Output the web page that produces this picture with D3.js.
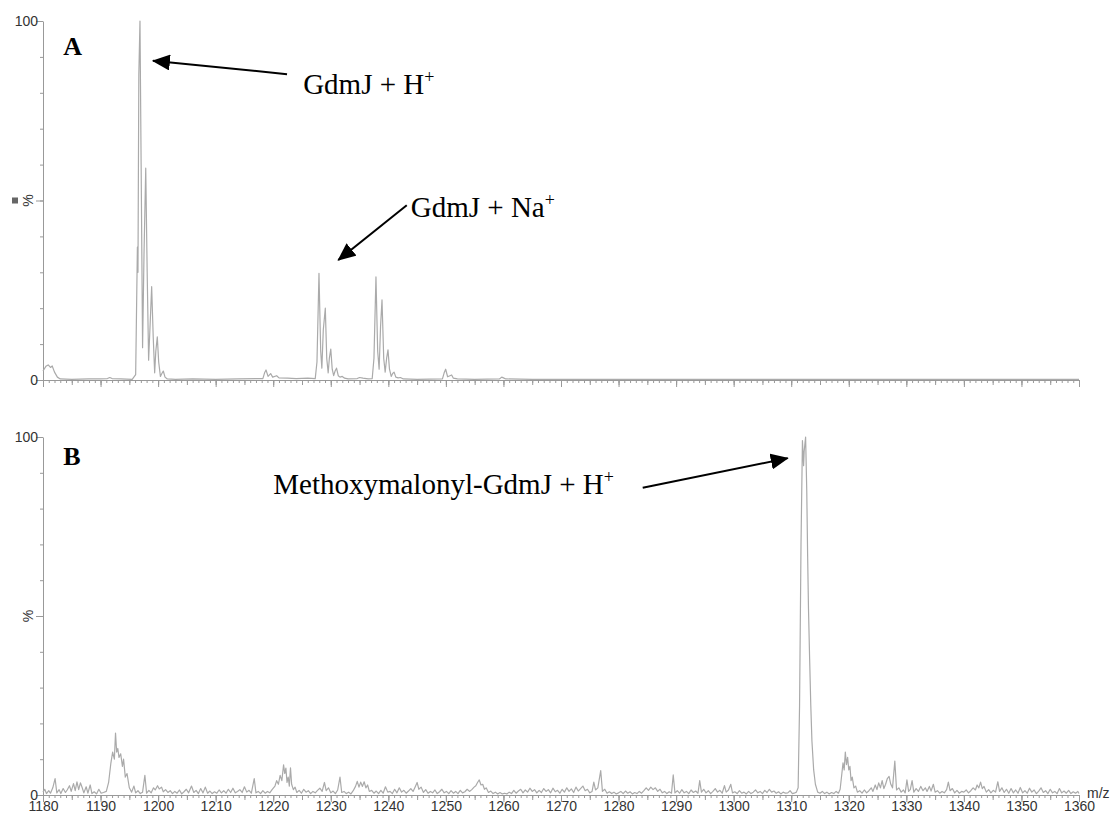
<!DOCTYPE html>
<html>
<head>
<meta charset="utf-8">
<script src="https://cdn.jsdelivr.net/npm/d3@7"></script>
<style>
  body { margin: 0; background: #fff; }
  .tick text { font-family: "Liberation Sans", Arial, sans-serif; font-size: 14px; fill: #333; }
</style>
</head>
<body>
<svg id="spectrum" width="1110" height="813"></svg>
<script>
// ------- Data (m/z, relative intensity %) ------
const mzDomain = [1180, 1360];

// panel A : GdmJ
const panelA = [
  [1180.0, 2.5], [1180.5, 3.8], [1180.9, 4.2], [1181.3, 3.5], [1181.6, 3.9], [1182.0, 2.2], [1182.5, 0.8],
  [1183.0, 0.3], [1185.0, 0.2], [1188.0, 0.3], [1190.0, 0.3], [1191.2, 0.4], [1191.6, 0.7], [1192.0, 0.4],
  [1193.5, 0.3], [1195.5, 0.2], [1196.1, 1.5], [1196.4, 37], [1196.5, 30], [1196.65, 85], [1196.85, 100],
  [1197.05, 60], [1197.3, 9], [1197.55, 35], [1197.85, 59], [1198.1, 30], [1198.35, 5.5], [1198.6, 15],
  [1198.88, 26], [1199.15, 12], [1199.4, 2], [1199.6, 8], [1199.86, 12], [1200.1, 5], [1200.4, 1],
  [1200.65, 1.8], [1200.9, 2.5], [1201.2, 0.8], [1201.6, 0.3], [1203.0, 0.2], [1206.0, 0.3], [1210.0, 0.2],
  [1214.0, 0.3], [1218.2, 0.4], [1218.5, 2.0], [1218.75, 2.8], [1219.1, 1.0], [1219.55, 1.8], [1219.9, 0.8],
  [1220.6, 1.2], [1221.0, 0.6], [1222.5, 0.5], [1224.0, 0.4], [1226.0, 0.5], [1227.3, 0.4], [1227.6, 5],
  [1227.95, 29.7], [1228.25, 8], [1228.45, 3.3], [1228.7, 14], [1229.05, 20], [1229.3, 6], [1229.55, 2],
  [1229.75, 6], [1230.0, 8.6], [1230.25, 3], [1230.5, 1.2], [1230.75, 2.5], [1231.0, 3.3], [1231.3, 1.2],
  [1231.6, 0.8], [1232.0, 1.0], [1232.4, 0.5], [1233.0, 0.3], [1234.6, 0.4], [1235.0, 0.7], [1235.6, 0.5],
  [1236.5, 0.3], [1237.2, 0.4], [1237.5, 6], [1237.85, 28.7], [1238.15, 8], [1238.4, 3], [1238.65, 15],
  [1238.9, 22.3], [1239.2, 6], [1239.45, 2.2], [1239.7, 6], [1239.94, 8.4], [1240.2, 3], [1240.5, 1],
  [1240.75, 1.8], [1241.0, 2.2], [1241.3, 0.8], [1241.7, 0.6], [1242.1, 0.7], [1242.6, 0.3], [1245.0, 0.2],
  [1249.4, 0.3], [1249.7, 2.0], [1249.96, 3.0], [1250.3, 0.9], [1250.7, 1.2], [1251.0, 1.4], [1251.3, 0.5],
  [1252.0, 0.3], [1255.0, 0.2], [1259.3, 0.3], [1259.7, 0.8], [1260.0, 0.6], [1260.4, 0.3], [1265.0, 0.2],
  [1280.0, 0.2], [1300.0, 0.2], [1320.0, 0.2], [1340.0, 0.2], [1360.0, 0.2]
];

// panel B : methoxymalonyl-GdmJ (noisy baseline)
const panelB = [
  [1180.0, 0.8], [1180.3, 1.6], [1180.6, 0.4], [1181.0, 1.2], [1181.3, 0.5], [1181.7, 2.0], [1182.1, 4.6],
  [1182.4, 0.6], [1182.8, 1.5], [1183.1, 0.4], [1183.5, 1.8], [1183.9, 0.7], [1184.2, 1.4], [1184.6, 2.6],
  [1184.9, 1.0], [1185.3, 3.2], [1185.6, 1.2], [1185.9, 3.7], [1186.2, 1.5], [1186.5, 3.4], [1186.8, 2.1],
  [1187.1, 0.6], [1187.5, 2.3], [1187.8, 0.5], [1188.2, 2.8], [1188.5, 0.4], [1188.9, 0.9], [1189.3, 0.3],
  [1189.7, 1.6], [1190.1, 0.5], [1190.5, 0.7],
  [1191.0, 1.0], [1191.4, 3.5], [1191.8, 9], [1192.1, 12], [1192.4, 10], [1192.6, 17.3], [1192.8, 12],
  [1193.0, 13], [1193.2, 10.5], [1193.5, 11.5], [1193.8, 8], [1194.0, 10], [1194.3, 5], [1194.6, 6],
  [1195.0, 2], [1195.4, 0.8],
  [1195.8, 2.5], [1196.1, 0.6], [1196.5, 1.2], [1196.9, 0.4], [1197.3, 0.8], [1197.7, 5.5], [1198.0, 0.5],
  [1198.4, 1.3], [1198.8, 0.6], [1199.2, 2.0], [1199.5, 1.4], [1199.9, 2.6], [1200.2, 1.7], [1200.6, 2.2],
  [1200.9, 0.9], [1201.3, 1.5], [1201.7, 0.7], [1202.1, 1.2], [1202.5, 0.4], [1202.9, 1.0], [1203.3, 0.5],
  [1203.7, 1.4], [1204.1, 0.3], [1204.5, 0.9], [1204.9, 1.6], [1205.3, 0.6], [1205.8, 2.5], [1206.2, 0.7],
  [1206.6, 1.3], [1207.0, 0.4], [1207.4, 1.8], [1207.8, 0.6], [1208.2, 2.2], [1208.6, 0.5], [1209.0, 1.1],
  [1209.4, 0.4], [1209.8, 0.9],
  [1210.2, 0.5], [1210.6, 1.4], [1211.0, 0.6], [1211.4, 1.2], [1211.8, 0.5], [1212.2, 1.6], [1212.6, 0.7],
  [1213.0, 1.9], [1213.4, 0.6], [1213.8, 1.0], [1214.2, 1.5], [1214.6, 0.7], [1215.0, 2.3], [1215.4, 0.8],
  [1215.8, 1.3], [1216.2, 0.5], [1216.7, 4.6], [1217.0, 0.6], [1217.4, 1.0], [1217.8, 0.4], [1218.2, 1.2],
  [1218.6, 0.5], [1219.0, 1.0], [1219.4, 0.6], [1219.8, 1.5],
  [1220.3, 2.5], [1220.6, 4.0], [1220.9, 3.0], [1221.2, 5.5], [1221.5, 4.0], [1221.8, 8.4], [1222.0, 6.0],
  [1222.2, 7.5], [1222.4, 3.5], [1222.6, 5.0], [1222.8, 2.5], [1223.0, 7.6], [1223.2, 3.0], [1223.5, 1.5],
  [1223.8, 2.2], [1224.1, 0.7],
  [1224.5, 1.3], [1224.9, 0.5], [1225.3, 1.6], [1225.7, 0.8], [1226.1, 1.2], [1226.5, 0.4], [1226.9, 1.0],
  [1227.3, 0.6], [1227.7, 1.3], [1228.1, 1.9], [1228.5, 1.0], [1228.9, 3.5], [1229.2, 1.2], [1229.6, 2.0],
  [1230.0, 0.6], [1230.4, 1.1], [1230.8, 0.4], [1231.2, 1.4], [1231.6, 5.0], [1231.9, 0.7], [1232.3, 1.0],
  [1232.7, 0.4], [1233.1, 0.8], [1233.5, 0.3], [1233.9, 1.2],
  [1234.3, 2.4], [1234.6, 3.8], [1234.9, 2.2], [1235.2, 3.6], [1235.5, 2.4], [1235.8, 3.7], [1236.1, 2.0],
  [1236.4, 2.8], [1236.7, 1.0], [1237.1, 1.3], [1237.5, 0.5], [1237.9, 1.1], [1238.3, 0.4], [1238.7, 1.3],
  [1239.1, 0.5], [1239.5, 2.3], [1239.9, 0.8], [1240.3, 1.0], [1240.7, 0.4], [1241.1, 1.6], [1241.5, 0.6],
  [1241.9, 2.0], [1242.3, 0.8], [1242.7, 1.3], [1243.1, 0.5], [1243.5, 1.1], [1243.9, 1.8], [1244.3, 1.0],
  [1244.7, 2.4], [1245.0, 3.5], [1245.3, 1.6], [1245.7, 2.2], [1246.1, 0.7], [1246.5, 1.5], [1246.9, 0.5],
  [1247.3, 1.0], [1247.7, 0.6], [1248.1, 1.4], [1248.5, 0.4], [1248.9, 0.9], [1249.3, 1.6], [1249.7, 0.6],
  [1250.1, 1.0],
  [1250.5, 0.4], [1250.9, 1.2], [1251.3, 0.5], [1251.7, 1.0], [1252.1, 0.4], [1252.5, 1.3], [1252.9, 0.6],
  [1253.3, 0.9], [1253.7, 1.6], [1254.1, 1.0], [1254.5, 1.5], [1254.9, 2.2], [1255.2, 2.6], [1255.5, 3.5],
  [1255.8, 4.2], [1256.1, 2.8], [1256.4, 3.0], [1256.7, 1.6], [1257.0, 2.0], [1257.4, 0.7], [1257.8, 1.1],
  [1258.2, 0.4], [1258.6, 0.8], [1259.0, 0.3], [1259.4, 0.7], [1259.8, 0.3],
  [1260.2, 0.5], [1260.6, 0.3], [1261.0, 0.8], [1261.4, 0.4], [1261.8, 1.3], [1262.2, 0.5], [1262.6, 1.1],
  [1263.0, 1.6], [1263.4, 0.6], [1263.8, 1.4], [1264.2, 0.8], [1264.6, 1.9], [1265.0, 1.0], [1265.4, 1.5],
  [1265.8, 0.6], [1266.2, 1.3], [1266.6, 0.7], [1267.0, 1.8], [1267.4, 1.0], [1267.8, 1.5], [1268.2, 0.6],
  [1268.6, 1.9], [1269.0, 0.9], [1269.4, 1.3], [1269.8, 0.5],
  [1270.2, 1.6], [1270.6, 0.8], [1271.0, 2.0], [1271.4, 1.0], [1271.8, 1.7], [1272.2, 0.7], [1272.6, 2.2],
  [1273.0, 1.1], [1273.4, 1.8], [1273.8, 2.5], [1274.2, 1.2], [1274.6, 1.6], [1275.0, 0.6], [1275.4, 1.0],
  [1275.7, 3.6], [1276.0, 1.4], [1276.4, 2.0], [1276.9, 6.8], [1277.2, 1.0], [1277.6, 1.6], [1278.0, 0.5],
  [1278.4, 0.9], [1278.8, 0.4], [1279.2, 0.8], [1279.6, 0.3],
  [1280.0, 0.6], [1280.4, 1.0], [1280.8, 0.4], [1281.2, 1.1], [1281.6, 0.5], [1282.0, 0.9], [1282.4, 0.3],
  [1282.8, 0.7], [1283.2, 0.4], [1283.6, 1.0], [1284.0, 0.5], [1284.4, 1.2], [1284.8, 2.0], [1285.2, 1.3],
  [1285.6, 2.2], [1286.0, 1.5], [1286.4, 2.0], [1286.8, 1.0], [1287.2, 1.6], [1287.6, 0.6], [1288.0, 1.0],
  [1288.4, 0.4], [1288.8, 0.9], [1289.2, 0.5], [1289.5, 5.6], [1289.8, 0.6],
  [1290.2, 1.2], [1290.6, 0.5], [1291.0, 1.5], [1291.4, 0.6], [1291.8, 1.0], [1292.2, 0.4], [1292.6, 1.4],
  [1293.0, 0.7], [1293.4, 1.1], [1293.8, 0.5], [1294.1, 4.0], [1294.4, 0.8], [1294.8, 1.6], [1295.2, 0.6],
  [1295.6, 1.2], [1296.0, 0.4], [1296.4, 1.0], [1296.8, 1.8], [1297.2, 0.8], [1297.6, 1.3], [1298.0, 0.5],
  [1298.4, 2.6], [1298.7, 0.8], [1299.1, 1.4], [1299.5, 3.0], [1299.8, 0.6],
  [1300.2, 0.9], [1300.6, 0.4], [1301.0, 1.2], [1301.4, 0.5], [1301.8, 0.8], [1302.2, 0.3], [1302.6, 1.0],
  [1303.0, 0.4], [1303.4, 0.8], [1303.8, 1.4], [1304.2, 0.6], [1304.6, 1.0], [1305.0, 0.4], [1305.4, 1.3],
  [1305.8, 0.7], [1306.2, 1.6], [1306.6, 0.8], [1307.0, 1.1], [1307.4, 0.5], [1307.8, 0.9], [1308.2, 0.3],
  [1308.6, 0.8], [1309.0, 0.5], [1309.4, 0.6], [1309.8, 1.2], [1310.2, 0.4],
  [1310.5, 0.5], [1310.9, 0.8], [1311.2, 2], [1311.45, 25], [1311.7, 70], [1311.95, 99], [1312.15, 92],
  [1312.25, 96], [1312.5, 100], [1312.7, 85], [1312.85, 67], [1313.0, 52], [1313.2, 38], [1313.4, 25],
  [1313.6, 15], [1313.9, 7], [1314.2, 3], [1314.6, 0.8],
  [1315.0, 0.5], [1315.4, 1.0], [1315.8, 0.4], [1316.2, 0.8], [1316.6, 0.3], [1317.0, 0.7], [1317.4, 0.4],
  [1317.8, 1.0], [1318.2, 0.5], [1318.5, 1.6], [1318.8, 6.0], [1319.0, 9.0], [1319.2, 7.0], [1319.4, 12.0],
  [1319.6, 8.5], [1319.8, 10.5], [1320.0, 7.0], [1320.2, 8.0], [1320.4, 4.0], [1320.6, 5.0], [1320.9, 2.0],
  [1321.2, 2.5], [1321.5, 0.8], [1321.9, 1.2], [1322.3, 0.5], [1322.7, 1.4], [1323.1, 0.6], [1323.5, 1.2],
  [1323.9, 2.0], [1324.2, 1.0], [1324.6, 2.8], [1324.9, 1.5], [1325.2, 3.4], [1325.5, 2.0], [1325.8, 4.0],
  [1326.1, 1.8], [1326.4, 3.0], [1326.7, 4.6], [1327.0, 5.2], [1327.3, 3.0], [1327.6, 2.0], [1328.0, 9.5],
  [1328.3, 1.4], [1328.7, 2.0], [1329.1, 0.8], [1329.5, 1.4], [1329.8, 0.6], [1330.1, 4.2], [1330.4, 1.0],
  [1330.7, 1.6], [1331.0, 4.0], [1331.3, 0.8], [1331.7, 1.8], [1332.1, 1.0], [1332.5, 2.4], [1332.9, 1.2],
  [1333.3, 2.0], [1333.6, 1.0], [1334.0, 2.4], [1334.3, 1.1], [1334.7, 3.0], [1335.0, 0.8],
  [1335.4, 1.2], [1335.8, 0.5], [1336.2, 1.0], [1336.6, 0.6], [1337.0, 1.5], [1337.3, 3.6], [1337.6, 1.2],
  [1338.0, 1.8], [1338.4, 0.6], [1338.8, 1.3], [1339.2, 0.5], [1339.6, 1.0], [1340.0, 0.8], [1340.4, 1.4],
  [1340.8, 0.6], [1341.2, 1.2], [1341.6, 2.0], [1342.0, 1.4], [1342.3, 2.8], [1342.6, 2.0], [1342.9, 3.6],
  [1343.2, 1.8], [1343.5, 2.4], [1343.9, 0.8], [1344.3, 1.5], [1344.7, 0.6], [1345.1, 1.3], [1345.5, 0.8],
  [1345.9, 3.7], [1346.2, 1.0], [1346.6, 2.0], [1347.0, 0.7], [1347.4, 1.6], [1347.8, 0.5], [1348.2, 1.8],
  [1348.6, 0.6], [1349.0, 1.4], [1349.4, 0.5], [1349.8, 2.1], [1350.2, 0.6], [1350.6, 1.2], [1351.0, 0.5],
  [1351.4, 1.9], [1351.8, 0.8], [1352.2, 1.4], [1352.6, 0.4], [1353.0, 1.1], [1353.4, 2.0], [1353.8, 0.7],
  [1354.2, 1.2], [1354.6, 0.4], [1355.0, 1.6], [1355.4, 0.6], [1355.8, 1.0], [1356.2, 0.4], [1356.6, 1.8],
  [1357.0, 0.6], [1357.4, 1.1], [1357.8, 0.5], [1358.2, 1.3], [1358.6, 0.4], [1359.0, 0.9], [1359.4, 0.5],
  [1359.8, 1.0], [1360.0, 0.4]
];

// annotations: [label, superscript, text position, arrow tail, arrow tip] in (m/z, %)
const notesA = [
  ["GdmJ + H", "+", [1225.2, 79.7], [1222.4, 85.2], [1199.1, 88.9]],
  ["GdmJ + Na", "+", [1243.9, 45.4], [1243.2, 48.7], [1231.3, 33.4]]
];
const notesB = [
  ["Methoxymalonyl-GdmJ + H", "+", [1220.0, 84.1], [1284.2, 85.8], [1309.4, 94.1]]
];

// ------- Layout ------
const svg = d3.select("#spectrum");
const axisColor = "#999";
const traceColor = "#aaa";
const x = d3.scaleLinear().domain(mzDomain).range([43, 1079]);

svg.append("defs").append("marker")
  .attr("id", "head")
  .attr("viewBox", "0 0 18 16")
  .attr("refX", 17)
  .attr("refY", 8)
  .attr("markerWidth", 18)
  .attr("markerHeight", 16)
  .attr("markerUnits", "userSpaceOnUse")
  .attr("orient", "auto")
  .append("path")
  .attr("d", "M0,0L18,8L0,16Z")
  .attr("fill", "black");

const panels = [
  { data: panelA, notes: notesA, top: 21, bottom: 380, letter: "A", letterY: 90.5, labels: false, mark: true },
  { data: panelB, notes: notesB, top: 437, bottom: 795, letter: "B", letterY: 92.2, labels: true, mark: false }
];

function styleAxis(g) {
  g.selectAll("path, line").attr("stroke", axisColor);
}

function drawPanel(p) {
  const y = d3.scaleLinear().domain([0, 100]).range([p.bottom, p.top]);
  const g = svg.append("g");

  // x axis: 1, 5 and 10 unit ticks
  const xg = g.append("g").attr("transform", `translate(0,${p.bottom})`);
  xg.append("g")
    .call(d3.axisBottom(x).tickValues(d3.range(1180, 1361, 1)).tickSize(3).tickSizeOuter(0).tickFormat(""))
    .call(styleAxis);
  xg.append("g")
    .call(d3.axisBottom(x).tickValues(d3.range(1180, 1361, 5)).tickSize(5).tickSizeOuter(0).tickFormat(""))
    .call(styleAxis).select(".domain").remove();
  const major = xg.append("g")
    .call(d3.axisBottom(x).tickValues(d3.range(1180, 1361, 10)).tickSize(7).tickSizeOuter(0)
      .tickFormat(p.labels ? d3.format("d") : ""))
    .call(styleAxis);
  major.select(".domain").remove();
  major.selectAll("text").attr("y", 6);

  // y axis
  const yg = g.append("g").attr("transform", `translate(${x(mzDomain[0])},0)`);
  yg.append("g")
    .call(d3.axisLeft(y).tickValues(d3.range(0, 101, 10)).tickSize(3).tickSizeOuter(0).tickFormat(""))
    .call(styleAxis);
  const ymaj = yg.append("g")
    .call(d3.axisLeft(y).tickValues([0, 50, 100]).tickSize(7).tickSizeOuter(0)
      .tickFormat(d => d === 50 ? "" : d))
    .call(styleAxis);
  ymaj.select(".domain").remove();
  ymaj.selectAll("text").attr("x", -5);

  yg.append("text")
    .attr("transform", `translate(-15,${y(50)}) rotate(-90)`)
    .attr("text-anchor", "middle")
    .attr("dy", "0.35em")
    .attr("font-family", "Liberation Sans, Arial, sans-serif")
    .attr("font-size", 14)
    .attr("fill", "#333")
    .text("%");
  if (p.mark) {
    yg.append("rect")
      .attr("x", -31).attr("y", y(50) - 3)
      .attr("width", 6).attr("height", 6)
      .attr("fill", "#666");
  }

  // trace
  const line = d3.line().x(d => x(d[0])).y(d => y(d[1]));
  g.append("path")
    .datum(p.data)
    .attr("fill", "none")
    .attr("stroke", traceColor)
    .attr("stroke-width", 1.2)
    .attr("stroke-linejoin", "round")
    .attr("d", line);

  // panel letter
  g.append("text")
    .attr("x", x(1183.5))
    .attr("y", y(p.letterY))
    .attr("font-family", "Liberation Serif, Times New Roman, serif")
    .attr("font-weight", "bold")
    .attr("font-size", 26)
    .text(p.letter);

  // annotations
  p.notes.forEach(n => {
    g.append("line")
      .attr("x1", x(n[3][0])).attr("y1", y(n[3][1]))
      .attr("x2", x(n[4][0])).attr("y2", y(n[4][1]))
      .attr("stroke", "black")
      .attr("stroke-width", 2)
      .attr("marker-end", "url(#head)");
    const t = g.append("text")
      .attr("x", x(n[2][0]))
      .attr("y", y(n[2][1]))
      .attr("font-family", "Liberation Serif, Times New Roman, serif")
      .attr("font-size", 29)
      .attr("fill", "black");
    t.append("tspan").text(n[0]);
    t.append("tspan").attr("dy", -11).attr("font-size", 18).text(n[1]);
  });
}

panels.forEach(drawPanel);

// m/z label
svg.append("text")
  .attr("x", x(mzDomain[1]) + 8)
  .attr("y", 798)
  .attr("font-family", "Liberation Sans, Arial, sans-serif")
  .attr("font-size", 14)
  .attr("fill", "#333")
  .text("m/z");
</script>
</body>
</html>
